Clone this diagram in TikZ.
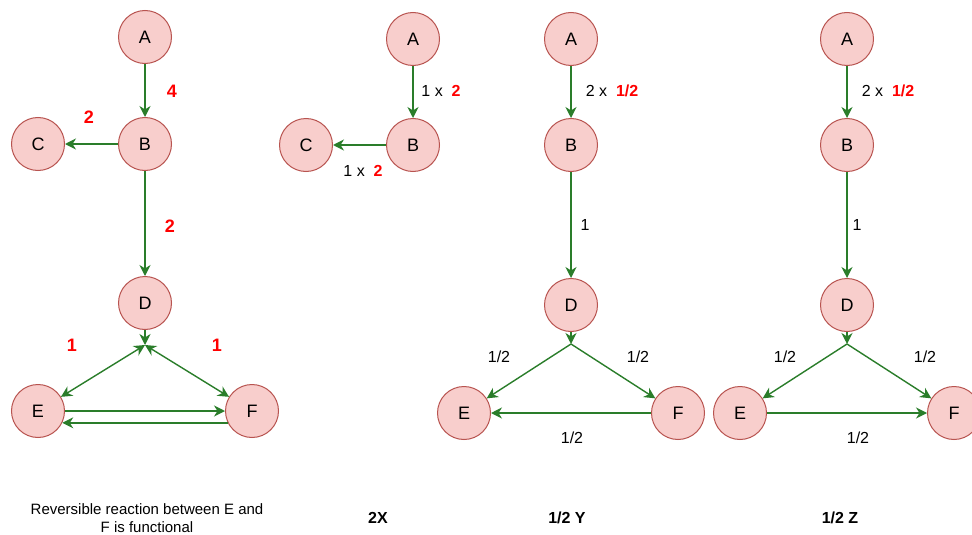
\documentclass[tikz,border=0pt]{standalone}
\usepackage{fontspec}
\setmainfont{Liberation Sans}
\usetikzlibrary{arrows.meta}

\definecolor{placefill}{HTML}{F8CECC}
\definecolor{placedraw}{HTML}{B85450}
\definecolor{flowgreen}{HTML}{2A7D2A}

\begin{document}
\begin{tikzpicture}[x=1pt, y=-1pt,
		>={Stealth[length=11pt, width=11pt, inset=3.5pt]},
		place/.style={circle, draw=placedraw, fill=placefill, line width=1pt, inner sep=0pt, minimum size=53pt, font=\fontsize{18}{21}\selectfont},
		flow/.style={->, draw=flowgreen, line width=1.4pt},
		both/.style={flow, <->},
		weight/.style={text=red, font=\fontsize{18}{21}\selectfont\bfseries},
		ratio/.style={font=\fontsize{16}{19}\selectfont},
		caption/.style={font=\fontsize{16}{19}\selectfont\bfseries}
		]
		\useasboundingbox (0,0) rectangle (972,535);

		% reversible case
		\node at (145, 37) [name=A1, place] {A};
		\node at (145, 144) [name=B1, place] {B};
		\node at (38, 144) [name=C1, place] {C};
		\node at (145, 303) [name=D1, place] {D};
		\node at (38, 411) [name=E1, place] {E};
		\node at (252, 411) [name=F1, place] {F};
		\coordinate (J1) at (145, 345);
		\draw[flow] (A1) -- (B1);
		\draw[flow] (B1) -- (C1);
		\draw[flow] (B1) -- (D1);
		\draw[flow] (D1) -- (J1);
		\draw[both] (J1) -- (E1);
		\draw[both] (J1) -- (F1);
		\draw[flow] (E1) -- (F1);
		\draw[flow] (F1.206) -- (E1.334);
		\node at (172, 91) [name=w AB1, weight] {4};
		\node at (89, 117) [name=w BC1, weight] {2};
		\node at (170, 226) [name=w BD1, weight] {2};
		\node at (72, 345) [name=w JE1, weight] {1};
		\node at (217, 345) [name=w JF1, weight] {1};
		\node at (147, 518) [name=note1, align=center, font=\fontsize{15}{18}\selectfont] {Reversible reaction between E and\\F is functional};

		% 2X
		\node at (413, 39) [name=A2, place] {A};
		\node at (413, 145) [name=B2, place] {B};
		\node at (306, 145) [name=C2, place] {C};
		\draw[flow] (A2) -- (B2);
		\draw[flow] (B2) -- (C2);
		\node at (441, 91) [name=r AB2, ratio] {1 x\ \ \textcolor{red}{\textbf{2}}};
		\node at (363, 171) [name=r BC2, ratio] {1 x\ \ \textcolor{red}{\textbf{2}}};
		\node at (378, 518) [name=cap2, caption] {2X};

		% 1/2 Y
		\node at (571, 39) [name=A3, place] {A};
		\node at (571, 145) [name=B3, place] {B};
		\node at (571, 305) [name=D3, place] {D};
		\node at (464, 413) [name=E3, place] {E};
		\node at (678, 413) [name=F3, place] {F};
		\coordinate (J3) at (571, 344);
		\draw[flow] (A3) -- (B3);
		\draw[flow] (B3) -- (D3);
		\draw[flow] (D3) -- (J3);
		\draw[flow] (J3) -- (E3);
		\draw[flow] (J3) -- (F3);
		\draw[flow] (F3) -- (E3);
		\node at (612, 91) [name=r AB3, ratio] {2 x\ \ \textcolor{red}{\textbf{1/2}}};
		\node at (585, 225) [name=r BD3, ratio] {1};
		\node at (499, 357) [name=r JE3, ratio] {1/2};
		\node at (638, 357) [name=r JF3, ratio] {1/2};
		\node at (572, 438) [name=r FE3, ratio] {1/2};
		\node at (567, 518) [name=cap3, caption] {1/2 Y};

		% 1/2 Z
		\node at (847, 39) [name=A4, place] {A};
		\node at (847, 145) [name=B4, place] {B};
		\node at (847, 305) [name=D4, place] {D};
		\node at (740, 413) [name=E4, place] {E};
		\node at (954, 413) [name=F4, place] {F};
		\coordinate (J4) at (847, 344);
		\draw[flow] (A4) -- (B4);
		\draw[flow] (B4) -- (D4);
		\draw[flow] (D4) -- (J4);
		\draw[flow] (J4) -- (E4);
		\draw[flow] (J4) -- (F4);
		\draw[flow] (E4) -- (F4);
		\node at (888, 91) [name=r AB4, ratio] {2 x\ \ \textcolor{red}{\textbf{1/2}}};
		\node at (857, 225) [name=r BD4, ratio] {1};
		\node at (785, 357) [name=r JE4, ratio] {1/2};
		\node at (925, 357) [name=r JF4, ratio] {1/2};
		\node at (858, 438) [name=r EF4, ratio] {1/2};
		\node at (840, 518) [name=cap4, caption] {1/2 Z};
	\end{tikzpicture}
\end{document}
